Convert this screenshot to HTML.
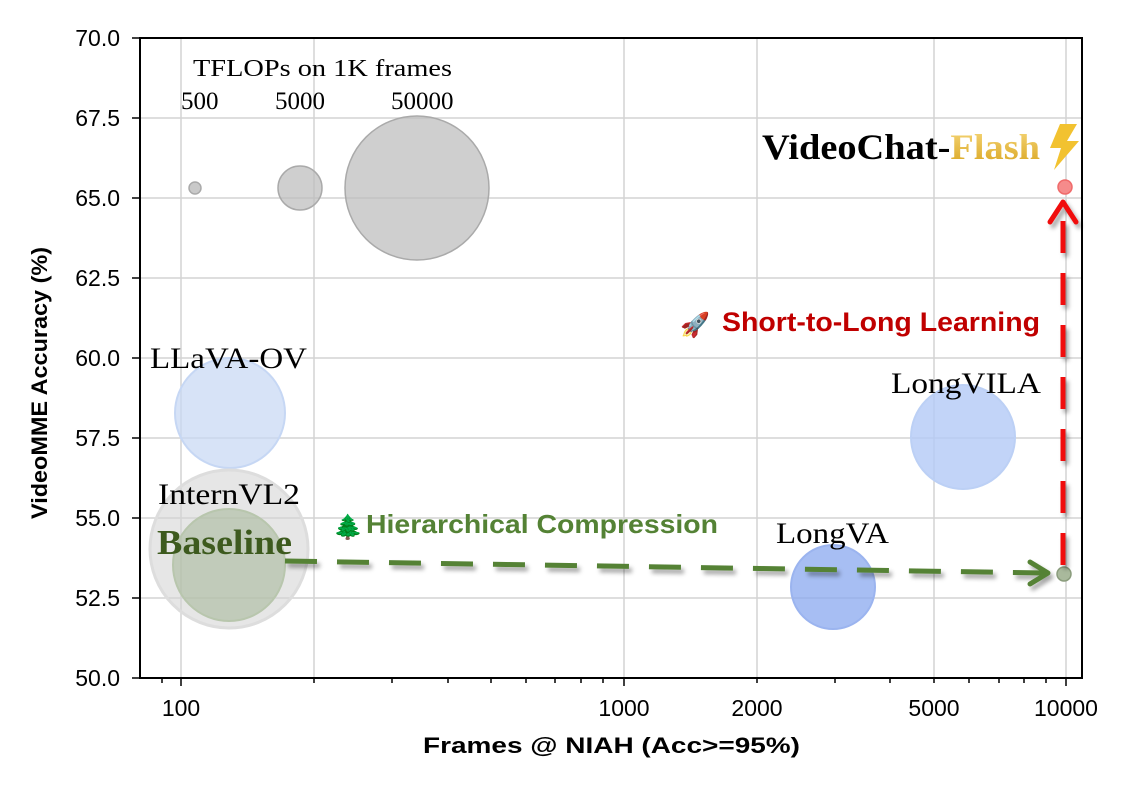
<!DOCTYPE html>
<html><head><meta charset="utf-8"><style>body{margin:0;background:#fff}svg{display:block}</style></head><body>
<svg width="1146" height="798" xmlns="http://www.w3.org/2000/svg" font-family="Liberation Sans, sans-serif">
<defs>
<linearGradient id="gold" x1="0" y1="0" x2="0" y2="1"><stop offset="0" stop-color="#f6d77a"/><stop offset="1" stop-color="#d9a520"/></linearGradient>
<filter id="sh" x="-10%" y="-50%" width="120%" height="200%"><feDropShadow dx="3" dy="4" stdDeviation="2" flood-color="#000" flood-opacity="0.35"/></filter>
</defs>
<rect x="140" y="38" width="942" height="640" fill="#fff"/>
<g stroke="#d3d3d3" stroke-width="1.5">
<line x1="140" x2="1082" y1="118" y2="118"/><line x1="140" x2="1082" y1="198" y2="198"/>
<line x1="140" x2="1082" y1="278" y2="278"/><line x1="140" x2="1082" y1="358" y2="358"/>
<line x1="140" x2="1082" y1="438" y2="438"/><line x1="140" x2="1082" y1="518" y2="518"/>
<line x1="140" x2="1082" y1="598" y2="598"/>
<line x1="181" x2="181" y1="38" y2="678"/><line x1="314" x2="314" y1="38" y2="678"/>
<line x1="624" x2="624" y1="38" y2="678"/><line x1="757" x2="757" y1="38" y2="678"/>
<line x1="934" x2="934" y1="38" y2="678"/><line x1="1066" x2="1066" y1="38" y2="678"/>
</g>
<g>
<circle cx="195" cy="188" r="6" fill="#bbb" stroke="#aaa" stroke-width="1.5" fill-opacity="0.8"/>
<circle cx="300" cy="188" r="22" fill="#bbb" stroke="#aaa" stroke-width="1.5" fill-opacity="0.7"/>
<circle cx="417" cy="188" r="72" fill="#bbb" stroke="#aaa" stroke-width="1.5" fill-opacity="0.7"/>
<circle cx="230" cy="413" r="55" fill="#c6d7f4" fill-opacity="0.7" stroke="#c6d7f4" stroke-width="2"/>
<circle cx="229" cy="549" r="79" fill="#d6d6d6" fill-opacity="0.6" stroke="#ddd" stroke-width="3"/>
<circle cx="229" cy="565" r="56" fill="#a9b99c" fill-opacity="0.6" stroke="#b8c6ad" stroke-width="2"/>
<circle cx="833" cy="587" r="42" fill="#8aa8ef" fill-opacity="0.75" stroke="#9bb4ef" stroke-width="2"/>
<circle cx="963" cy="437" r="52" fill="#b3c9f6" fill-opacity="0.8" stroke="#bcd0f5" stroke-width="2"/>
<circle cx="1064" cy="574" r="7" fill="#a9b99c" stroke="#8a9c7c" stroke-width="1.5"/>
<circle cx="1065" cy="187" r="7" fill="#f58b8b" stroke="#f06a6a" stroke-width="1.5"/>
</g>
<g filter="url(#sh)">
<line x1="285" y1="561" x2="1045" y2="573" stroke="#548235" stroke-width="5" stroke-dasharray="32,20"/>
<polyline points="1030,562 1048,573 1030,584" fill="none" stroke="#548235" stroke-width="5" stroke-linecap="round" stroke-linejoin="round"/>
<line x1="1063" y1="565" x2="1063" y2="205" stroke="#f01010" stroke-width="5" stroke-dasharray="32,20"/>
<polyline points="1050,222 1063,202 1076,222" fill="none" stroke="#f01010" stroke-width="5" stroke-linecap="round" stroke-linejoin="round"/>
</g>
<rect x="140" y="38" width="942" height="640" fill="none" stroke="#000" stroke-width="2"/>
<g stroke="#000" stroke-width="1.5">
<line x1="181" x2="181" y1="678" y2="686"/><line x1="624" x2="624" y1="678" y2="686"/><line x1="1066" x2="1066" y1="678" y2="686"/>
<line x1="162" x2="162" y1="678" y2="683"/><line x1="314" x2="314" y1="678" y2="683"/><line x1="392" x2="392" y1="678" y2="683"/>
<line x1="448" x2="448" y1="678" y2="683"/><line x1="491" x2="491" y1="678" y2="683"/><line x1="526" x2="526" y1="678" y2="683"/>
<line x1="555" x2="555" y1="678" y2="683"/><line x1="581" x2="581" y1="678" y2="683"/><line x1="603" x2="603" y1="678" y2="683"/>
<line x1="757" x2="757" y1="678" y2="683"/><line x1="835" x2="835" y1="678" y2="683"/><line x1="890" x2="890" y1="678" y2="683"/>
<line x1="934" x2="934" y1="678" y2="683"/><line x1="969" x2="969" y1="678" y2="683"/><line x1="999" x2="999" y1="678" y2="683"/>
<line x1="1024" x2="1024" y1="678" y2="683"/><line x1="1046" x2="1046" y1="678" y2="683"/>
<line x1="132" x2="140" y1="38" y2="38"/><line x1="132" x2="140" y1="118" y2="118"/><line x1="132" x2="140" y1="198" y2="198"/>
<line x1="132" x2="140" y1="278" y2="278"/><line x1="132" x2="140" y1="358" y2="358"/><line x1="132" x2="140" y1="438" y2="438"/>
<line x1="132" x2="140" y1="518" y2="518"/><line x1="132" x2="140" y1="598" y2="598"/><line x1="132" x2="140" y1="678" y2="678"/>
</g>
<g font-size="23" text-anchor="end" fill="#000">
<text x="120" y="46">70.0</text><text x="120" y="126">67.5</text><text x="120" y="206">65.0</text>
<text x="120" y="286">62.5</text><text x="120" y="366">60.0</text><text x="120" y="446">57.5</text>
<text x="120" y="526">55.0</text><text x="120" y="606">52.5</text><text x="120" y="686">50.0</text>
</g>
<g font-size="23" text-anchor="middle">
<text x="181" y="716">100</text><text x="624" y="716">1000</text><text x="757" y="716">2000</text>
<text x="934" y="716">5000</text><text x="1066" y="716">10000</text>
</g>
<text x="423" y="753" font-size="22" font-weight="bold" textLength="377" lengthAdjust="spacingAndGlyphs">Frames @ NIAH (Acc&gt;=95%)</text>
<text transform="translate(47,383) rotate(-90)" x="-136" y="0" font-size="22" font-weight="bold" textLength="272" lengthAdjust="spacingAndGlyphs">VideoMME Accuracy (%)</text>
<g font-family="Liberation Serif, serif">
<text x="193" y="76" font-size="24" textLength="259" lengthAdjust="spacingAndGlyphs">TFLOPs on 1K frames</text>
<text x="181" y="109" font-size="25">500</text><text x="275" y="109" font-size="25">5000</text><text x="391" y="109" font-size="25">50000</text>
<text x="150" y="368" font-size="30" textLength="157" lengthAdjust="spacingAndGlyphs">LLaVA-OV</text>
<text x="891" y="393" font-size="30" textLength="150" lengthAdjust="spacingAndGlyphs">LongVILA</text>
<text x="776" y="543" font-size="30" textLength="113" lengthAdjust="spacingAndGlyphs">LongVA</text>
<text x="158" y="504" font-size="30" textLength="142" lengthAdjust="spacingAndGlyphs">InternVL2</text>
<text x="157" y="554" font-size="35" font-weight="bold" fill="#3d5a1e" textLength="135" lengthAdjust="spacingAndGlyphs">Baseline</text>
</g>
<text x="333" y="535" font-size="24" font-family="Liberation Sans, Noto Sans CJK SC, sans-serif">🌲</text>
<text x="366" y="533" font-size="26" font-weight="bold" fill="#548235" textLength="352" lengthAdjust="spacingAndGlyphs">Hierarchical Compression</text>
<text x="680" y="333" font-size="24" font-family="Liberation Sans, Noto Sans CJK SC, sans-serif">🚀</text>
<text x="722" y="331" font-size="27" font-weight="bold" fill="#c00000" textLength="318" lengthAdjust="spacingAndGlyphs">Short-to-Long Learning</text>
<text x="762" y="159" font-size="36" font-weight="bold" font-family="Liberation Serif, serif" textLength="278" lengthAdjust="spacingAndGlyphs">VideoChat-<tspan fill="url(#gold)">Flash</tspan></text>
<polygon points="1060,124 1077,124 1067,141 1079,141 1054,170 1061,148 1050,148" fill="#f2c230"/>
</svg>
</body></html>
